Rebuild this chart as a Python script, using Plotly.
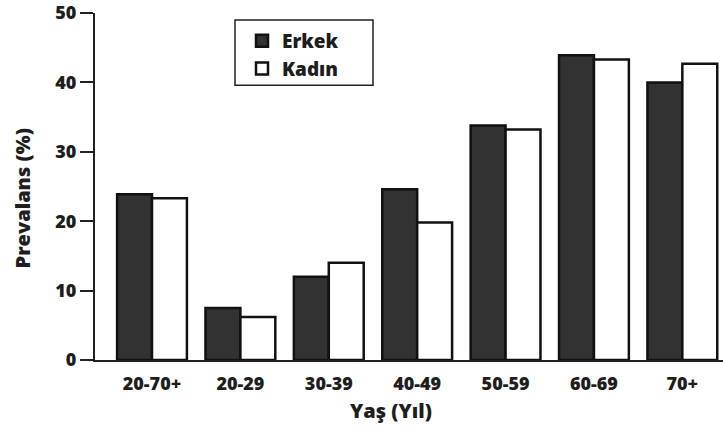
import plotly.graph_objects as go

# Age groups and prevalence (%) by sex
age_groups = ["20-70+", "20-29", "30-39", "40-49", "50-59", "60-69", "70+"]
erkek = [23.9, 7.5, 12.0, 24.6, 33.8, 43.9, 40.0]
kadin = [23.3, 6.2, 14.0, 19.8, 33.2, 43.3, 42.7]
y_ticks = [0, 10, 20, 30, 40, 50]

FONT = "Open Sans"
WEIGHT = 800
INK = "#1e1e1e"

fig = go.Figure()
fig.add_trace(go.Bar(
    x=age_groups, y=erkek, name="Erkek",
    marker=dict(color="#323232", line=dict(color="#111111", width=2.5)),
))
fig.add_trace(go.Bar(
    x=age_groups, y=kadin, name="Kadın",
    marker=dict(color="#ffffff", line=dict(color="#111111", width=2.5)),
))

L, R, T, B = 95, 0, 10, 72
W, H = 723, 432
pw, ph = W - L - R, H - T - B

def px(x):
    return (x - L) / pw

def py(y):
    return (H - B - y) / ph

fig.update_layout(
    width=W, height=H,
    margin=dict(l=L, r=R, t=T, b=B, pad=0),
    paper_bgcolor="white", plot_bgcolor="white",
    barmode="group", bargap=0.21, bargroupgap=0,
    font=dict(family=FONT, size=17, color=INK, weight=WEIGHT),
    showlegend=True,
    legend=dict(
        x=px(242), y=py(19), xanchor="left", yanchor="top",
        bgcolor="rgba(0,0,0,0)", borderwidth=0,
        font=dict(family=FONT, size=19, color=INK, weight=WEIGHT),
        tracegroupgap=0,
    ),
    xaxis=dict(
        range=[-0.645, 6.46],
        showline=True, linecolor="#222222", linewidth=1.5,
        ticks="", showgrid=False, zeroline=False,
        tickfont=dict(family=FONT, size=18, color=INK, weight=WEIGHT),
        ticklabelstandoff=7,
    ),
    yaxis=dict(
        range=[0, 50], tickvals=y_ticks,
        showline=True, linecolor="#222222", linewidth=2,
        ticks="outside", ticklen=13, tickwidth=2, tickcolor="#222222",
        showgrid=False, zeroline=False, ticklabeloverflow="allow",
        tickfont=dict(family=FONT, size=18, color=INK, weight=WEIGHT),
    ),
    shapes=[dict(
        type="rect", xref="paper", yref="paper",
        x0=px(235), x1=px(373), y0=py(83), y1=py(17),
        line=dict(color="#222222", width=1.5), fillcolor="rgba(0,0,0,0)",
    )],
    annotations=[
        dict(text="Yaş (Yıl)", xref="paper", yref="paper",
             x=px(391), y=py(411), xanchor="center", yanchor="middle",
             showarrow=False,
             font=dict(family=FONT, size=20, color=INK, weight=WEIGHT)),
        dict(text="Prevalans (%)", xref="paper", yref="paper",
             x=px(22), y=py(197), xanchor="center", yanchor="middle",
             textangle=-90, showarrow=False,
             font=dict(family=FONT, size=20, color=INK, weight=WEIGHT)),
    ],
)

fig.write_html("out.html")
